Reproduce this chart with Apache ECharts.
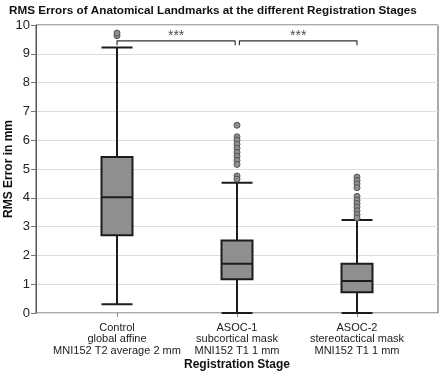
<!DOCTYPE html>
<html><head><meta charset="utf-8">
<script src="https://cdn.jsdelivr.net/npm/echarts@6/dist/echarts.min.js"></script>
<style>html,body{margin:0;padding:0;background:#fff}#c{width:440px;height:373px}</style>
</head><body><div id="c"></div>
<script>
const titleText = 'RMS Errors of Anatomical Landmarks at the different Registration Stages';
const categories = ['Control\nglobal affine\nMNI152 T2 average 2 mm', 'ASOC-1\nsubcortical mask\nMNI152 T1 1 mm', 'ASOC-2\nstereotactical mask\nMNI152 T1 1 mm'];
const categoryPos = [1, 2, 3];
// [min, Q1, median, Q3, max]
const boxStats = [
  [0.3, 2.7, 4.02, 5.42, 9.22],
  [0.0, 1.17, 1.71, 2.52, 4.52],
  [0.0, 0.72, 1.11, 1.71, 3.23]
];
const outliersControl = [9.63, 9.72];
const outliersAsoc1 = [6.52, 6.12, 6.0, 5.86, 5.72, 5.58, 5.44, 5.3, 5.16, 4.76, 4.65];
const outliersAsoc2 = [4.72, 4.6, 4.48, 4.35, 4.05, 3.92, 3.8, 3.68, 3.55, 3.42, 3.3];
// [xStart, xEnd, yTickBottom, yTop]
const brackets = [[1, 1.985, 9.3, 9.45], [2.02, 3, 9.3, 9.45]];
const starLabels = ['***', '***'];
const starY = 9.63;
const yMin = 0, yMax = 10, yInterval = 1;

const FONT = 'Liberation Sans, Arial, sans-serif';
const chart = echarts.init(document.getElementById('c'), null, {renderer: 'canvas'});

const outlierData = [];
[outliersControl, outliersAsoc1, outliersAsoc2].forEach((arr, i) => arr.forEach(v => outlierData.push([categoryPos[i], v])));

const bracketSeries = brackets.map(b => ({
  type: 'line', xAxisIndex: 1, yAxisIndex: 1, symbol: 'none', silent: true,
  lineStyle: {color: '#333', width: 1.2},
  data: [[b[0], b[2]], [b[0], b[3]], [b[1], b[3]], [b[1], b[2]]],
  z: 5
}));

chart.setOption({
  animation: false,
  backgroundColor: '#fff',
  textStyle: {fontFamily: FONT},
  title: {
    text: titleText, left: 4, top: 0,
    textStyle: {fontSize: 11.7, fontWeight: 'bold', color: '#111', fontFamily: FONT}
  },
  grid: [
    {left: 57, top: 25, width: 360, height: 288, outerBoundsMode: 'none', containLabel: false},
    {left: 36, top: 25, width: 402, height: 288, outerBoundsMode: 'none', containLabel: false, show: true, borderColor: '#555', borderWidth: 1, backgroundColor: 'transparent'}
  ],
  xAxis: [
    {
      type: 'category', gridIndex: 0, data: categories,
      axisLine: {show: false},
      axisTick: {show: true, alignWithLabel: true, length: 4, lineStyle: {color: '#888'}},
      axisLabel: {fontSize: 11, lineHeight: 11.5, color: '#222', margin: 9, interval: 0, fontFamily: FONT},
      name: 'Registration Stage', nameLocation: 'middle', nameGap: 46, nameMoveOverlap: false,
      nameTextStyle: {fontSize: 12, fontWeight: 'bold', color: '#111', fontFamily: FONT}
    },
    {type: 'value', gridIndex: 1, min: 0.325, max: 3.675, show: false}
  ],
  yAxis: [
    {type: 'value', gridIndex: 0, min: yMin, max: yMax, show: false},
    {
      type: 'value', gridIndex: 1, min: yMin, max: yMax, interval: yInterval,
      axisLine: {show: true, lineStyle: {color: '#555'}},
      axisTick: {show: true, length: 5, lineStyle: {color: '#777'}},
      axisLabel: {fontSize: 13, color: '#222', margin: 6, fontFamily: FONT},
      splitLine: {show: true, lineStyle: {color: '#ddd', width: 1}},
      name: 'RMS Error in mm', nameLocation: 'middle', nameGap: 21, nameMoveOverlap: false,
      nameTextStyle: {fontSize: 12, fontWeight: 'bold', color: '#111', fontFamily: FONT}
    }
  ],
  series: [
    {
      type: 'boxplot', xAxisIndex: 0, yAxisIndex: 0, data: boxStats,
      boxWidth: [31, 31],
      itemStyle: {color: '#8f8f8f', borderColor: '#1c1c1c', borderWidth: 2},
      z: 3
    },
    {
      type: 'scatter', xAxisIndex: 1, yAxisIndex: 1, data: outlierData,
      symbol: 'circle', symbolSize: 6,
      itemStyle: {color: '#8f8f8f', borderColor: '#555', borderWidth: 1, opacity: 1},
      z: 4
    },
    ...bracketSeries,
    {
      type: 'scatter', xAxisIndex: 1, yAxisIndex: 1, symbolSize: 0, silent: true,
      data: brackets.map((b, i) => ({value: [(b[0] + b[1]) / 2, starY], name: starLabels[i]})),
      label: {show: true, position: 'inside', formatter: p => p.name, fontSize: 14, color: '#222', fontFamily: FONT},
      z: 6
    }
  ]
});
</script>
</body></html>
